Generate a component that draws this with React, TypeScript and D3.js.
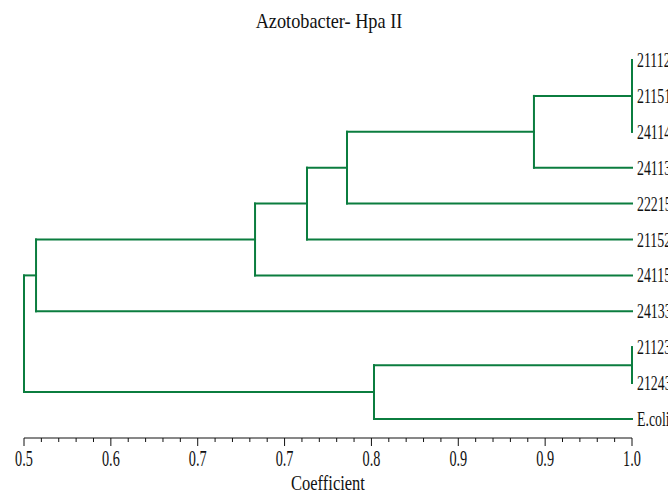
import React from "react";
import * as d3 from "d3";

const title = "Azotobacter- Hpa II";
const xAxisTitle = "Coefficient";

// leaves, top to bottom
const leaves = ["21112", "21151", "24114", "24113", "22215", "21152", "24115", "24133", "21123", "21243", "E.coli"];

// internal nodes: name, children, coefficient at which they join
const nodeNames = ["A", "B", "C", "D", "E", "F", "G", "H", "root"];
const nodeChildren = [
  ["21112", "21151", "24114"],
  ["A", "24113"],
  ["B", "22215"],
  ["C", "21152"],
  ["D", "24115"],
  ["E", "24133"],
  ["21123", "21243"],
  ["G", "E.coli"],
  ["F", "H"],
];
const nodeHeights = [1.0, 0.9226, 0.775, 0.7434, 0.7024, 0.5295, 1.0, 0.7963, 0.52];

const axisDomain = [0.52, 1.0];
const tickLabels = ["0.5", "0.6", "0.7", "0.7", "0.8", "0.9", "0.9", "1.0"];

const W = 668, H = 495;
const GREEN = "#0b7d3f";
const FONT = "'Liberation Serif', 'Times New Roman', serif";

export default function App() {
  const x = d3.scaleLinear().domain(axisDomain).range([24, 632]);
  const yLeaf = d3.scalePoint<string>().domain(leaves).range([60, 419]);

  const childMap = new Map<string, string[]>();
  const heightMap = new Map<string, number>();
  nodeNames.forEach((n, i) => {
    childMap.set(n, nodeChildren[i]);
    heightMap.set(n, nodeHeights[i]);
  });
  const build = (name: string): any => {
    const ch = childMap.get(name);
    return ch ? { name, h: heightMap.get(name), children: ch.map(build) } : { name, h: 1.0 };
  };
  const root = d3.hierarchy(build("root"));
  root.eachAfter((n: any) => {
    if (!n.children) n.y = yLeaf(n.data.name);
    else {
      const ys = n.children.map((c: any) => c.y);
      n.y = (d3.min(ys)! + d3.max(ys)!) / 2;
    }
  });

  const segs: { x1: number; y1: number; x2: number; y2: number }[] = [];
  root.each((n: any) => {
    if (!n.children) return;
    const xn = x(n.data.h);
    const ys = n.children.map((c: any) => c.y);
    segs.push({ x1: xn, y1: d3.min(ys)!, x2: xn, y2: d3.max(ys)! });
    n.children.forEach((c: any) => {
      segs.push({ x1: xn, y1: c.y, x2: x(c.data.h), y2: c.y });
    });
  });

  const axisY = 438;
  const nMajor = tickLabels.length;
  const step = (axisDomain[1] - axisDomain[0]) / (nMajor - 1);
  const majors = d3.range(nMajor).map((i) => axisDomain[0] + i * step);
  const minors: number[] = [];
  for (let i = 0; i < nMajor - 1; i++) for (let j = 1; j < 5; j++) minors.push(majors[i] + (j * step) / 5);

  return (
    <svg width={W} height={H} style={{ position: "absolute", left: 0, top: 0, background: "#fff" }}>
      <text transform={`translate(${W / 2 - 5},28) scale(0.87,1)`} textAnchor="middle" fontFamily={FONT} fontSize={21} fill="#111">
        {title}
      </text>
      {segs.map((s, i) => (
        <line key={i} x1={s.x1} y1={s.y1} x2={s.x2} y2={s.y2} stroke={GREEN} strokeWidth={2} strokeLinecap="square" />
      ))}
      {leaves.map((l) => (
        <text key={l} transform={`translate(637,${yLeaf(l)! + 7}) scale(0.63,1)`} fontFamily={FONT} fontSize={22} fill="#111">
          {l}
        </text>
      ))}
      <line x1={x(axisDomain[0])} x2={x(axisDomain[1])} y1={axisY} y2={axisY} stroke="#111" strokeWidth={1} />
      {majors.map((m, i) => (
        <g key={"M" + i}>
          <line x1={x(m)} x2={x(m)} y1={axisY} y2={axisY + 8} stroke="#111" strokeWidth={1} />
          <text transform={`translate(${x(m)},${axisY + 28}) scale(0.62,1)`} textAnchor="middle" fontFamily={FONT} fontSize={23} fill="#111">
            {tickLabels[i]}
          </text>
        </g>
      ))}
      {minors.map((m, i) => (
        <line key={"m" + i} x1={x(m)} x2={x(m)} y1={axisY} y2={axisY + 4} stroke="#111" strokeWidth={1} />
      ))}
      <text transform={`translate(${x(0.76)},${axisY + 52}) scale(0.75,1)`} textAnchor="middle" fontFamily={FONT} fontSize={22} fill="#111">
        {xAxisTitle}
      </text>
    </svg>
  );
}
